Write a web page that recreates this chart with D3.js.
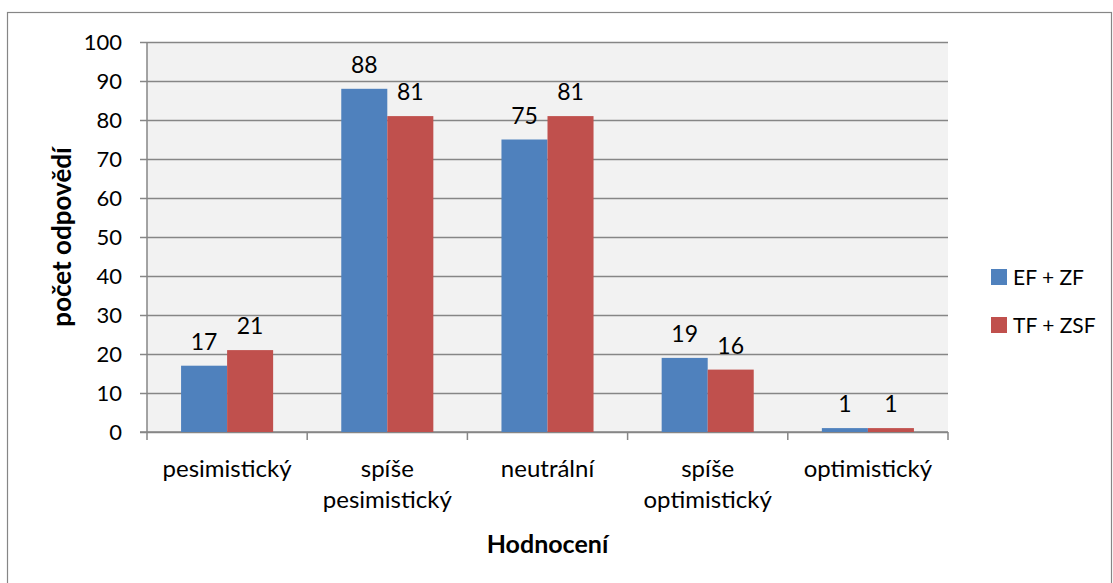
<!DOCTYPE html>
<html>
<head>
<meta charset="utf-8">
<script src="https://cdn.jsdelivr.net/npm/d3@7"></script>
<style>
  body { margin: 0; background: #fff; }
  text { font-family: Lato, "Open Sans", sans-serif; fill: #000; }
</style>
</head>
<body>
<div id="chart"></div>
<script>
const width = 1113;
const height = 583;

// data
const categories = ['pesimistický', 'spíše pesimistický', 'neutrální', 'spíše optimistický', 'optimistický'];
const seriesNames = ['EF + ZF', 'TF + ZSF'];
const efZf = [17, 88, 75, 19, 1];
const tfZsf = [21, 81, 81, 16, 1];
const yTicks = [0, 10, 20, 30, 40, 50, 60, 70, 80, 90, 100];
const colors = ['#4f81bd', '#c0504d'];

const rows = categories.map((c, i) => ({ cat: c, values: [efZf[i], tfZsf[i]] }));

const plot = { left: 147, right: 948, top: 42, bottom: 432 };

const svg = d3.select('#chart')
  .append('svg')
  .attr('width', width)
  .attr('height', height);

// outer chart frame
svg.append('rect')
  .attr('x', 7.5).attr('y', 12.5)
  .attr('width', 1104).attr('height', 580)
  .attr('fill', '#fff')
  .attr('stroke', '#868686')
  .attr('stroke-width', 1.2);

const x = d3.scaleBand()
  .domain(categories)
  .range([plot.left, plot.right]);

const xInner = d3.scaleBand()
  .domain(seriesNames)
  .range([0, x.bandwidth()])
  .paddingOuter(0.74)
  .paddingInner(0);

const y = d3.scaleLinear()
  .domain([0, 100])
  .range([plot.bottom, plot.top]);

// plot background
svg.append('rect')
  .attr('x', plot.left).attr('y', plot.top)
  .attr('width', plot.right - plot.left)
  .attr('height', plot.bottom - plot.top)
  .attr('fill', '#f2f2f2');

// gridlines + y ticks
const yAxis = svg.append('g')
  .attr('transform', `translate(${plot.left},0)`)
  .call(d3.axisLeft(y).tickValues(yTicks).tickSize(-(plot.right - plot.left)).tickPadding(25));
yAxis.select('.domain').remove();
yAxis.selectAll('.tick line')
  .attr('x1', -7)
  .attr('stroke', '#868686')
  .attr('stroke-width', 1.5);
yAxis.selectAll('.tick text')
  .style('font-size', '22px')
  .attr('dy', '0.36em');

// y axis line
svg.append('line')
  .attr('x1', plot.left).attr('x2', plot.left)
  .attr('y1', plot.top).attr('y2', plot.bottom)
  .attr('stroke', '#868686').attr('stroke-width', 1.5);

// x axis line with category separators
svg.append('line')
  .attr('x1', plot.left - 7).attr('x2', plot.right)
  .attr('y1', plot.bottom).attr('y2', plot.bottom)
  .attr('stroke', '#868686').attr('stroke-width', 1.5);
const seps = categories.map((c) => x(c)).concat([plot.right]);
svg.append('g').selectAll('line')
  .data(seps)
  .join('line')
  .attr('x1', (d) => d).attr('x2', (d) => d)
  .attr('y1', plot.bottom).attr('y2', plot.bottom + 8)
  .attr('stroke', '#868686').attr('stroke-width', 1.5);

// bars
const groups = svg.append('g').selectAll('g')
  .data(rows)
  .join('g')
  .attr('transform', (d) => `translate(${x(d.cat)},0)`);

groups.selectAll('rect')
  .data((d) => d.values.map((v, i) => ({ v, s: seriesNames[i], i })))
  .join('rect')
  .attr('x', (d) => xInner(d.s))
  .attr('y', (d) => y(d.v))
  .attr('width', xInner.bandwidth())
  .attr('height', (d) => y(0) - y(d.v))
  .attr('fill', (d) => colors[d.i]);

groups.selectAll('text')
  .data((d) => d.values.map((v, i) => ({ v, s: seriesNames[i] })))
  .join('text')
  .attr('x', (d) => xInner(d.s) + xInner.bandwidth() / 2)
  .attr('y', (d) => y(d.v) - 16)
  .attr('text-anchor', 'middle')
  .style('font-size', '23px')
  .text((d) => d.v);

// category labels (wrapped on the space for two-word names)
const catLabels = svg.append('g').selectAll('text')
  .data(categories)
  .join('text')
  .attr('x', (d) => x(d) + x.bandwidth() / 2)
  .attr('y', 477)
  .attr('text-anchor', 'middle')
  .style('font-size', '24px');
catLabels.each(function (d) {
  const words = d.split(' ');
  const t = d3.select(this);
  words.forEach((w, i) => {
    t.append('tspan')
      .attr('x', x(d) + x.bandwidth() / 2)
      .attr('dy', i === 0 ? 0 : 31)
      .text(w);
  });
});

// axis titles
svg.append('text')
  .attr('x', (plot.left + plot.right) / 2)
  .attr('y', 553)
  .attr('text-anchor', 'middle')
  .style('font-size', '25px')
  .style('font-weight', 'bold')
  .text('Hodnocení');

svg.append('text')
  .attr('transform', `translate(71,${(plot.top + plot.bottom) / 2}) rotate(-90)`)
  .attr('text-anchor', 'middle')
  .style('font-size', '26px')
  .style('font-weight', 'bold')
  .text('počet odpovědí');

// legend
const legend = svg.append('g').selectAll('g')
  .data(seriesNames)
  .join('g')
  .attr('transform', (d, i) => `translate(991,${269 + i * 48})`);
legend.append('rect')
  .attr('width', 16).attr('height', 16)
  .attr('fill', (d, i) => colors[i]);
legend.append('text')
  .attr('x', 22).attr('y', 8)
  .attr('dy', '0.36em')
  .style('font-size', '21px')
  .text((d) => d);
</script>
</body>
</html>
